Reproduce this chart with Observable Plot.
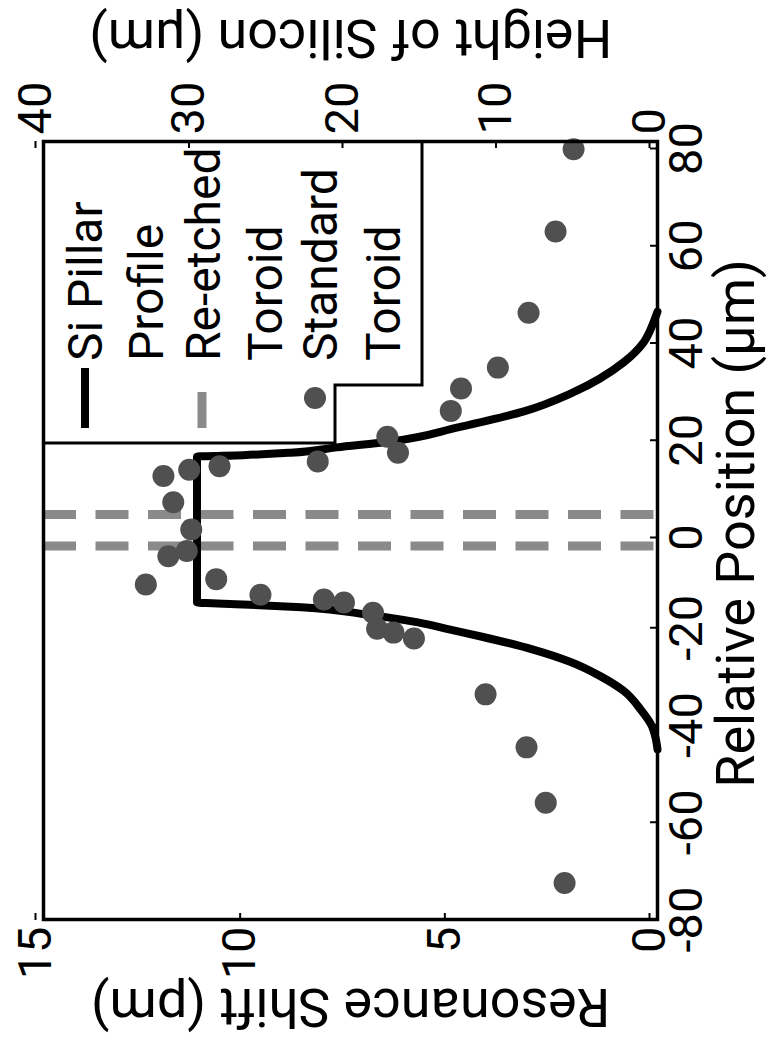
<!DOCTYPE html>
<html><head><meta charset="utf-8">
<script src="https://cdn.jsdelivr.net/npm/d3@7"></script>
<script src="https://cdn.jsdelivr.net/npm/@observablehq/plot@0.6"></script>
<style>
html,body{margin:0;padding:0;background:#fff;}
#wrap{position:relative;width:779px;height:1055px;overflow:hidden;background:#fff;}
#wrap svg{position:absolute;left:0;top:0;max-width:none !important;width:1055px !important;height:779px !important;transform-origin:0 0;transform:translate(0px,1055px) rotate(-90deg);}
</style></head><body><div id="wrap"></div>
<script>
// Standard toroid: resonance shift (pm) vs relative position (µm)
const dotPosition = [78.4, 61.5, 44.8, 33.5, 29.2, 24.6, 19.3, 16.0, 14.2, 13.2, 12.5, 11.2, 5.8, 0.2, -4.2, -5.3, -10.0, -11.1, -13.2, -14.2, -14.8, -16.9, -20.2, -21.0, -22.2, -33.7, -44.6, -56.0, -72.5];
const dotShift    = [2.05, 2.49, 3.15, 3.90, 4.80, 5.05, 6.60, 6.34, 8.30, 10.70, 11.44, 12.07, 11.83, 11.39, 11.50, 11.95, 10.78, 12.50, 9.70, 8.15, 7.66, 6.95, 6.85, 6.45, 5.95, 4.20, 3.20, 2.73, 2.27];
// Si pillar profile: height of silicon (µm) vs relative position (µm)
const profilePosition = [-45, -43, -40, -36.8, -33, -30, -27, -24.5, -21.8, -20.4, -18.9, -17.3, -15.8, -15.2, -14.8, 15.2, 15.5, 16.0, 17.1, 18.3, 21.2, 24.5, 28.4, 34.6, 38.7, 42.8, 45];
const profileHeight   = [0, 0.1, 0.4, 1.1, 2.2, 3.7, 5.7, 8.1, 11.5, 13.5, 15.6, 18.9, 23.2, 27, 30, 30, 27, 23.9, 20.9, 17.4, 13.0, 8.7, 5.5, 2.2, 0.9, 0.26, 0];
// Re-etched toroid edges (µm)
const reetchedPosition = [3.3, -3.2];
// ticks
const positionTicks = [-80, -60, -40, -20, 0, 20, 40, 60, 80];
const shiftTicks = [0, 5, 10, 15];
const heightTicks = [0, 10, 20, 30, 40];
const shiftMax = 15, heightMax = 40;
// legend
const legendLabels = [["Si Pillar", "Profile"], ["Re-etched", "Toroid"], ["Standard", "Toroid"]];
const xLabel = "Relative Position (µm)";
const yLabel = "Resonance Shift (pm)";
const y2Label = "Height of Silicon (µm)";

const FONT = "Roboto, 'Open Sans', sans-serif";
const W = 1055, H = 779, mL = 135, mR = 142, mT = 43, mB = 122;
const toShift = h => h * shiftMax / heightMax;

const dots = dotPosition.map((p, i) => ({p, s: dotShift[i]}));
const profile = profilePosition.map((p, i) => ({p, h: profileHeight[i]}));
const fmt = d => String(d);

const svg = Plot.plot({
  width: W, height: H,
  marginLeft: mL, marginRight: mR, marginTop: mT, marginBottom: mB,
  style: {fontFamily: FONT, fontSize: "47px", color: "black", background: "white", overflow: "visible"},
  x: {domain: [-80, 80]},
  y: {domain: [0, shiftMax]},
  marks: [
    Plot.ruleX(reetchedPosition, {stroke: "#8a8a8a", strokeWidth: 9, strokeDasharray: "33,19.5"}),
    Plot.line(profile, {x: "p", y: d => toShift(d.h), stroke: "black", strokeWidth: 8, curve: "monotone-x"}),
    Plot.dot(dots, {x: "p", y: "s", r: 11, fill: "#505050"}),
    Plot.frame({stroke: "black", strokeWidth: 3.5}),
    Plot.axisX({anchor: "bottom", ticks: positionTicks.filter(d => d < 0), tickFormat: fmt, tickSize: -7, tickPadding: 18, strokeWidth: 2, label: null, fontSize: 47}),
    Plot.axisX({anchor: "bottom", ticks: positionTicks.filter(d => d >= 0), tickFormat: fmt, tickSize: -7, tickPadding: 18, strokeWidth: 2, label: null, fontSize: 47, dx: -7}),
    Plot.axisY({anchor: "left", ticks: shiftTicks, tickFormat: fmt, tickSize: -7, tickPadding: 14, strokeWidth: 2, label: null, fontSize: 47, dy: -8}),
    Plot.axisY({anchor: "right", ticks: heightTicks.map(toShift), tickFormat: d => fmt(Math.round(d * heightMax / shiftMax)), tickSize: -7, tickPadding: 14, strokeWidth: 2, label: null, fontSize: 47, dy: -8}),
    Plot.text([xLabel], {frameAnchor: "bottom", textAnchor: "middle", text: d => d, dy: 96, dx: 7, fontSize: 54}),
    Plot.text([yLabel], {frameAnchor: "left", textAnchor: "middle", text: d => d, rotate: -90, dx: -87, fontSize: 54}),
    Plot.text([y2Label], {frameAnchor: "right", textAnchor: "middle", text: d => d, rotate: -90, dx: 104, fontSize: 54})
  ]
});

// legend (top-right corner of the frame)
const fr = W - mR, ft = mT;
const g = d3.select(svg).append("g").attr("font-family", FONT).attr("font-size", 48)
  .attr("fill", "black").attr("text-anchor", "start");
g.append("path")
  .attr("d", `M${fr},${ft + 379}H${fr - 243}V${ft + 292}H${fr - 301}V${ft}`)
  .attr("fill", "none").attr("stroke", "black").attr("stroke-width", 3);
g.append("line").attr("x1", fr - 286).attr("x2", fr - 226).attr("y1", ft + 42).attr("y2", ft + 42)
  .attr("stroke", "black").attr("stroke-width", 8);
g.append("line").attr("x1", fr - 286).attr("x2", fr - 250).attr("y1", ft + 159).attr("y2", ft + 159)
  .attr("stroke", "#8a8a8a").attr("stroke-width", 9);
g.append("circle").attr("cx", fr - 256).attr("cy", ft + 272).attr("r", 11).attr("fill", "#505050");
const baselines = [[59, 120], [177, 239], [294, 357]];
legendLabels.forEach((lines, i) => lines.forEach((t, j) => {
  g.append("text").attr("x", fr - 219).attr("y", ft + baselines[i][j]).attr("text-anchor", "start").text(t);
}));

document.getElementById("wrap").appendChild(svg);
</script></body></html>
